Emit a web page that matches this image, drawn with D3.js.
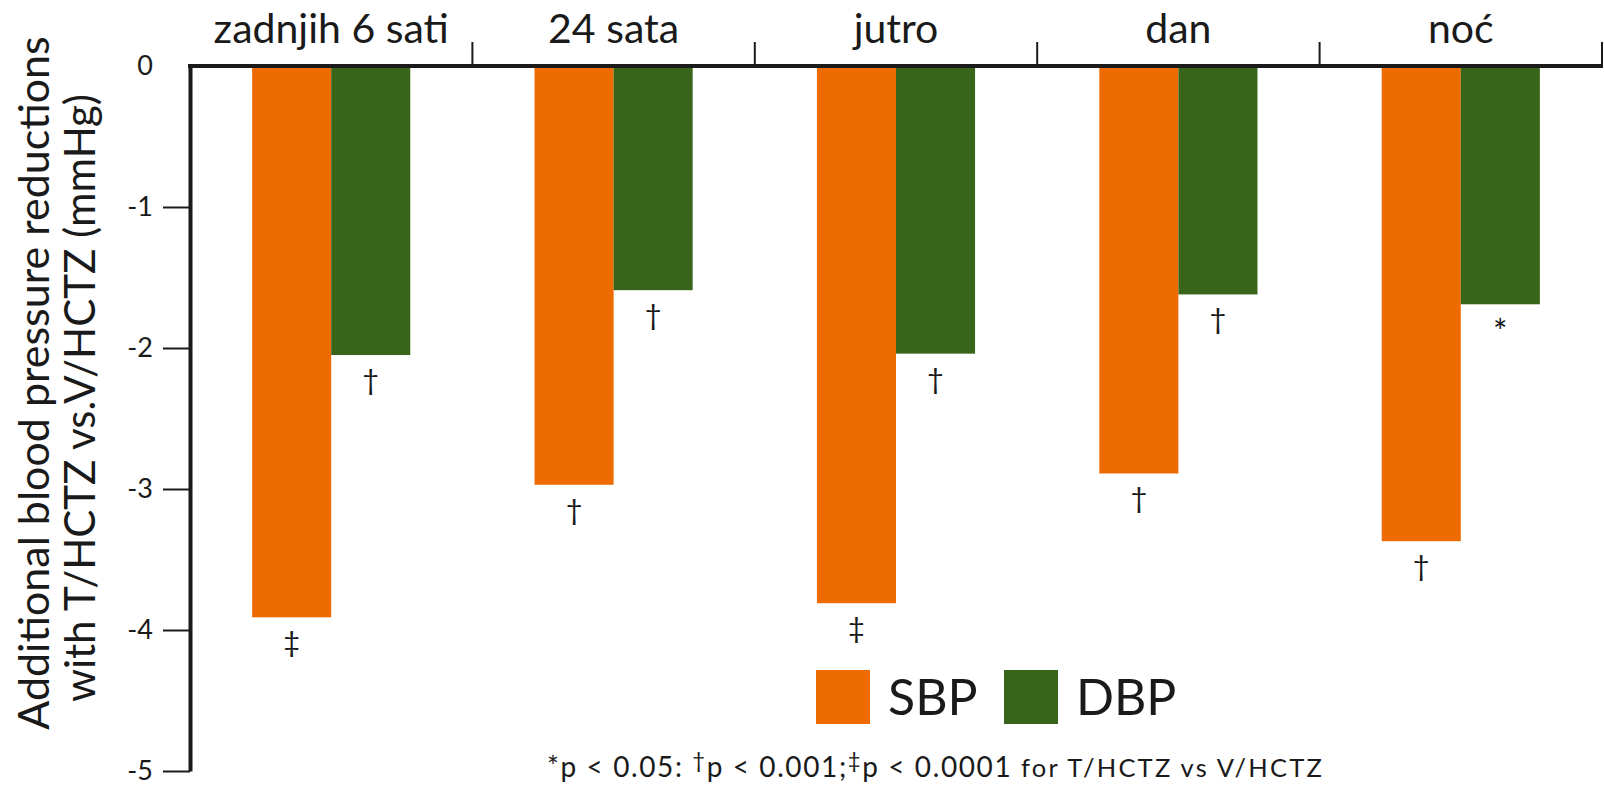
<!DOCTYPE html>
<html>
<head>
<meta charset="utf-8">
<script src="https://cdn.jsdelivr.net/npm/d3@7"></script>
<style>
  html, body { margin: 0; padding: 0; background: #fff; }
  svg { display: block; font-family: Lato, "Open Sans", sans-serif; }
</style>
</head>
<body>
<svg id="chart" width="1604" height="790"></svg>
<script>
// Additional BP reductions, T/HCTZ vs V/HCTZ, per measurement period
const categories = ["zadnjih 6 sati", "24 sata", "jutro", "dan", "noć"];
const seriesNames = ["SBP", "DBP"];
const sbpValues = [-3.91, -2.97, -3.81, -2.89, -3.37];
const dbpValues = [-2.05, -1.59, -2.04, -1.62, -1.69];
const sbpMarks = ["‡", "†", "‡", "†", "†"];
const dbpMarks = ["†", "†", "†", "†", "*"];
const yTickValues = [0, -1, -2, -3, -4, -5];
const yTitleLines = ["Additional blood pressure reductions", "with T/HCTZ vs.V/HCTZ (mmHg)"];

const colors = { SBP: "#ed6b00", DBP: "#38651a" };
const ink = "#1a1a1a";

const svg = d3.select("#chart");

const plot = { left: 190, right: 1602, top: 66, bottom: 771 };

const y = d3.scaleLinear().domain([0, -5]).range([plot.top, plot.bottom]);

// Category slots (full width) and grouped bars inside them
const xSlot = d3.scaleBand().domain(categories).range([plot.left, plot.right]).padding(0);
const x0 = d3.scaleBand().domain(categories).range([plot.left, plot.right])
  .paddingInner(0.44).paddingOuter(0.22);
const x1 = d3.scaleBand().domain(seriesNames).range([0, x0.bandwidth()]);

const rows = categories.map((c, i) => ({
  category: c,
  values: [
    { key: "SBP", value: sbpValues[i], mark: sbpMarks[i] },
    { key: "DBP", value: dbpValues[i], mark: dbpMarks[i] }
  ]
}));

// Bars
const groups = svg.append("g").selectAll("g")
  .data(rows).join("g")
  .attr("transform", d => `translate(${x0(d.category)},0)`);

groups.selectAll("rect")
  .data(d => d.values).join("rect")
  .attr("x", d => x1(d.key))
  .attr("width", x1.bandwidth())
  .attr("y", y(0))
  .attr("height", d => y(d.value) - y(0))
  .attr("fill", d => colors[d.key]);

// Significance marks under each bar
groups.selectAll("text.mark")
  .data(d => d.values).join("text")
  .attr("class", "mark")
  .attr("x", d => x1(d.key) + x1.bandwidth() / 2)
  .attr("y", d => y(d.value) + (d.mark === "*" ? 40 : 35))
  .attr("text-anchor", "middle")
  .attr("font-size", d => d.mark === "*" ? 34 : 29)
  .attr("fill", ink)
  .text(d => d.mark);

// Left value axis
const yAxis = d3.axisLeft(y)
  .tickValues(yTickValues)
  .tickSize(27)
  .tickSizeOuter(0)
  .tickPadding(10)
  .tickFormat(d => String(d));

const gy = svg.append("g").attr("transform", `translate(${plot.left},0)`).call(yAxis);
gy.select(".domain").attr("stroke", ink).attr("stroke-width", 4);
gy.selectAll(".tick line").attr("stroke", ink).attr("stroke-width", 2)
  .filter(d => d === 0).remove();
gy.selectAll(".tick text")
  .attr("font-size", 27)
  .attr("font-family", "Lato, sans-serif")
  .attr("fill", ink);

// Top category axis: baseline at zero with upward dividers
svg.append("line")
  .attr("x1", plot.left - 2).attr("x2", plot.right + 1)
  .attr("y1", y(0)).attr("y2", y(0))
  .attr("stroke", ink).attr("stroke-width", 4);

svg.append("g").selectAll("line")
  .data(categories).join("line")
  .attr("x1", d => xSlot(d) + xSlot.bandwidth())
  .attr("x2", d => xSlot(d) + xSlot.bandwidth())
  .attr("y1", y(0)).attr("y2", y(0) - 24)
  .attr("stroke", ink).attr("stroke-width", 2);

svg.append("g").selectAll("text")
  .data(categories).join("text")
  .attr("x", d => xSlot(d) + xSlot.bandwidth() / 2)
  .attr("y", 43)
  .attr("text-anchor", "middle")
  .attr("font-size", 41)
  .attr("fill", ink)
  .text(d => d);

// Y axis title (two lines)
svg.append("g").selectAll("text")
  .data(yTitleLines).join("text")
  .attr("transform", (d, i) => `translate(${49 + i * 46},${383 + i * 15}) rotate(-90)`)
  .attr("text-anchor", "middle")
  .attr("font-size", (d, i) => i === 0 ? 43 : 42)
  .attr("fill", ink)
  .text(d => d);

// Legend
const legend = svg.append("g").attr("transform", "translate(816,670)");
const legendX = { SBP: 0, DBP: 188 };
seriesNames.forEach(k => {
  legend.append("rect")
    .attr("x", legendX[k]).attr("y", 0)
    .attr("width", 54).attr("height", 54)
    .attr("fill", colors[k]);
  legend.append("text")
    .attr("x", legendX[k] + 72).attr("y", 45)
    .attr("font-size", 50)
    .attr("fill", ink)
    .text(k);
});

// Footnote
const note = svg.append("text")
  .attr("x", 547).attr("y", 777)
  .attr("font-size", 28)
  .attr("letter-spacing", 1.6)
  .attr("fill", ink);
note.append("tspan").text("*p < 0.05: ");
note.append("tspan").attr("dy", -9).attr("font-size", 22).text("†");
note.append("tspan").attr("dy", 9).text("p < 0.001;");
note.append("tspan").attr("dy", -9).attr("font-size", 22).text("‡");
note.append("tspan").attr("dy", 9).text("p < 0.0001 ");
note.append("tspan").attr("font-size", 25.5).attr("letter-spacing", 2.2).text("for T/HCTZ vs V/HCTZ");
</script>
</body>
</html>
